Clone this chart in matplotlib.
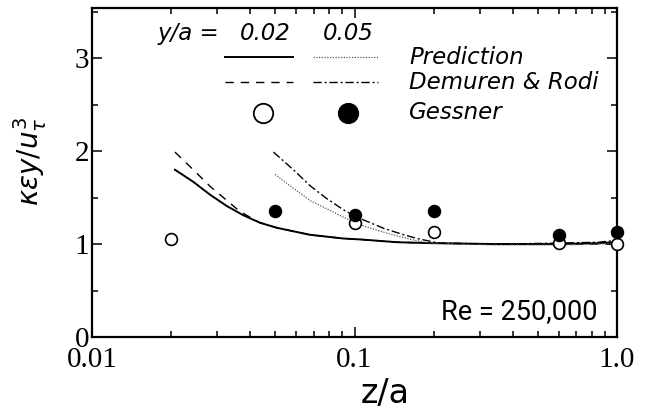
import matplotlib
matplotlib.use("Agg")
import matplotlib.pyplot as plt
from matplotlib.lines import Line2D
from matplotlib.ticker import FixedLocator, NullFormatter, LogLocator

plt.rcParams['mathtext.fontset'] = 'dejavusans'

# ---- data ----
pred02_x = [0.0207, 0.0243, 0.0282, 0.0326, 0.0377, 0.0436, 0.0506, 0.0676,
            0.0906, 0.105, 0.145, 0.194, 0.35, 0.6, 0.85, 1.0]
pred02_y = [1.80, 1.67, 1.53, 1.41, 1.31, 1.23, 1.175, 1.10,
            1.06, 1.05, 1.02, 1.01, 1.00, 1.00, 1.01, 1.02]

dr02_x = [0.0207, 0.0243, 0.0282, 0.0326, 0.0366, 0.0436, 0.0506, 0.0676,
          0.0906, 0.105, 0.145, 0.194, 0.35, 0.6, 1.0]
dr02_y = [1.99, 1.80, 1.62, 1.47, 1.35, 1.23, 1.175, 1.10,
          1.06, 1.05, 1.02, 1.01, 1.00, 1.00, 1.00]

pred05_x = [0.0498, 0.0585, 0.0676, 0.0783, 0.0906, 0.102, 0.128, 0.149,
            0.170, 0.194, 0.35, 0.6, 0.85, 1.0]
pred05_y = [1.75, 1.60, 1.47, 1.38, 1.29, 1.22, 1.13, 1.08,
            1.04, 1.01, 0.99, 0.99, 1.00, 1.01]

dr05_x = [0.0491, 0.0585, 0.0676, 0.0783, 0.0906, 0.102, 0.129, 0.150,
          0.173, 0.21, 0.35, 0.6, 0.85, 1.0]
dr05_y = [1.99, 1.80, 1.63, 1.49, 1.37, 1.29, 1.17, 1.11,
          1.06, 1.01, 1.00, 1.01, 1.02, 1.04]

gess02_x = [0.02, 0.1, 0.2, 0.6, 1.0]
gess02_y = [1.05, 1.23, 1.13, 1.01, 1.00]

gess05_x = [0.05, 0.1, 0.2, 0.6, 1.0]
gess05_y = [1.355, 1.31, 1.355, 1.10, 1.125]

xticks = [0.01, 0.1, 1.0]
xticklabels = ['0.01', '0.1', '1.0']
yticks = [0, 1, 2, 3]
yticklabels = ['0', '1', '2', '3']

# ---- figure ----
fig = plt.figure(figsize=(6.53, 4.09), dpi=100)
ax = fig.add_axes([92/653, 1-337/409, 525/653, 329/409])

ax.plot(pred02_x, pred02_y, color='black', lw=1.4, ls='-')
ax.plot(dr02_x, dr02_y, color='black', lw=1.0, ls=(0, (6, 5)))
ax.plot(pred05_x, pred05_y, color='0.35', lw=0.9, ls=(0, (1, 1.2)))
ax.plot(dr05_x, dr05_y, color='black', lw=1.0, ls=(0, (6, 2, 1.5, 2)))

ax.plot(gess02_x, gess02_y, ls='none', marker='o', ms=8.5, mfc='white',
        mec='black', mew=1.2, clip_on=False, zorder=5)
ax.plot(gess05_x, gess05_y, ls='none', marker='o', ms=8.5, mfc='black',
        mec='black', mew=1.2, clip_on=False, zorder=6)

ax.set_xscale('log')
ax.set_xlim(0.01, 1.0)
ax.set_ylim(0, 3.54)

ax.xaxis.set_major_locator(FixedLocator(xticks))
ax.set_xticklabels(xticklabels)
ax.xaxis.set_minor_locator(LogLocator(base=10, subs=range(2, 10)))
ax.xaxis.set_minor_formatter(NullFormatter())
ax.set_yticks(yticks)
ax.set_yticklabels(yticklabels)
ax.yaxis.set_minor_locator(FixedLocator([0.5, 1.5, 2.5, 3.5]))

for lab in ax.get_xticklabels() + ax.get_yticklabels():
    lab.set_family('Liberation Serif')
    lab.set_fontsize(21)

ax.tick_params(which='both', direction='in', top=True, right=True, width=1.1)
ax.tick_params(which='major', length=7)
ax.tick_params(which='minor', length=4)
ax.tick_params(axis='x', which='major', pad=7)
ax.tick_params(axis='y', which='major', pad=2)

for s in ax.spines.values():
    s.set_linewidth(1.6)

fig.text(385/653, 1-394/409, 'z/a', ha='center', va='center',
         fontsize=24, family='DejaVu Sans')
fig.text(30/653, 1-162/409, r'$\kappa\epsilon y/u_\tau^3$', ha='center',
         va='center', rotation=90, fontsize=20)

# ---- manual legend (axes fractions) ----
lf = dict(fontsize=16.5, family='DejaVu Sans', style='italic', va='center',
          transform=ax.transAxes)
ax.text(0.124, 0.924, 'y/a =', ha='left', **lf)
ax.text(0.330, 0.924, '0.02', ha='center', **lf)
ax.text(0.488, 0.924, '0.05', ha='center', **lf)

ax.add_line(Line2D([0.253, 0.383], [0.851, 0.851], transform=ax.transAxes,
                   color='black', lw=1.4))
ax.add_line(Line2D([0.421, 0.545], [0.851, 0.851], transform=ax.transAxes,
                   color='0.35', lw=0.9, ls=(0, (1, 1.2))))
ax.add_line(Line2D([0.253, 0.383], [0.775, 0.775], transform=ax.transAxes,
                   color='black', lw=1.0, ls=(0, (6, 5))))
ax.add_line(Line2D([0.421, 0.545], [0.775, 0.775], transform=ax.transAxes,
                   color='black', lw=1.0, ls=(0, (6, 2, 1.5, 2))))
ax.add_line(Line2D([0.326], [0.681], transform=ax.transAxes, ls='none',
                   marker='o', ms=14, mfc='white', mec='black', mew=1.3))
ax.add_line(Line2D([0.488], [0.681], transform=ax.transAxes, ls='none',
                   marker='o', ms=14, mfc='black', mec='black', mew=1.3))

ax.text(0.604, 0.851, 'Prediction', ha='left', **lf)
ax.text(0.604, 0.775, 'Demuren & Rodi', ha='left', **lf)
ax.text(0.604, 0.681, 'Gessner', ha='left', **lf)

ax.text(0.962, 0.076, 'Re = 250,000', ha='right', va='center',
        transform=ax.transAxes, fontsize=19.5, family='Roboto')

fig.savefig('out.png', dpi=100)
